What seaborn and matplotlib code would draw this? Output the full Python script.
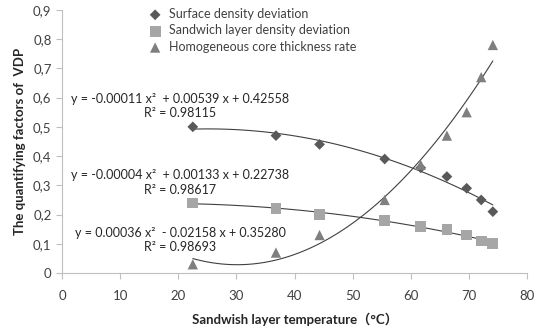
import numpy as np
import pandas as pd
import matplotlib
matplotlib.use("Agg")
import matplotlib.pyplot as plt
import seaborn as sns

# data
temperature = [22.5, 36.8, 44.3, 55.5, 61.7, 66.2, 69.6, 72.1, 74.1]
surface_density = [0.50, 0.47, 0.44, 0.39, 0.36, 0.33, 0.29, 0.25, 0.21]
sandwich_density = [0.24, 0.22, 0.20, 0.18, 0.16, 0.15, 0.13, 0.11, 0.10]
core_thickness = [0.03, 0.07, 0.13, 0.25, 0.37, 0.47, 0.55, 0.67, 0.78]

series_names = ["Surface density deviation", "Sandwich layer density deviation",
                "Homogeneous core thickness rate"]
equations = ["y = -0.00011 x²  + 0.00539 x + 0.42558",
             "y = -0.00004 x²  + 0.00133 x + 0.22738",
             "y = 0.00036 x²  - 0.02158 x + 0.35280"]
r_squared = ["R² = 0.98115", "R² = 0.98617", "R² = 0.98693"]

x_ticks = [0, 10, 20, 30, 40, 50, 60, 70, 80]
y_ticks = [0, 0.1, 0.2, 0.3, 0.4, 0.5, 0.6, 0.7, 0.8, 0.9]
y_tick_labels = ["0", "0,1", "0,2", "0,3", "0,4", "0,5", "0,6", "0,7", "0,8", "0,9"]

df = pd.DataFrame({"T": temperature, "s": surface_density,
                   "w": sandwich_density, "c": core_thickness})

sns.set_style("white")
plt.rcParams["font.family"] = ["Lato", "Noto Sans CJK SC", "DejaVu Sans"]
text_col = "#404040"

fig = plt.figure(figsize=(5.39, 3.29), dpi=100)
ax = fig.add_axes([0.115, 0.170, 0.863, 0.800])

markers = ["D", "s", "^"]
colors = ["#595959", "#a6a6a6", "#7f7f7f"]
sizes = [30, 60, 55]
for col, m, c, sz, name in zip(["s", "w", "c"], markers, colors, sizes, series_names):
    sns.regplot(data=df, x="T", y=col, order=2, ci=None, scatter=False, ax=ax,
                line_kws={"color": "#404040", "lw": 0.8})
    sns.scatterplot(data=df, x="T", y=col, marker=m, color=c, s=sz, ax=ax,
                    edgecolor="none", label=name, zorder=3)

ax.set_xlim(0, 80)
ax.set_ylim(0, 0.9)
ax.set_xticks(x_ticks)
ax.set_yticks(y_ticks)
ax.set_yticklabels(y_tick_labels)
ax.tick_params(axis="both", labelsize=9.5, colors="#bfbfbf", labelcolor=text_col,
               length=4, width=0.8, direction="out", left=True, bottom=True)
ax.tick_params(axis="x", pad=8)
for side in ["top", "right"]:
    ax.spines[side].set_visible(False)
for side in ["left", "bottom"]:
    ax.spines[side].set_color("#bfbfbf")
    ax.spines[side].set_linewidth(0.8)

ax.set_xlabel("Sandwish layer temperature（°C）", fontsize=9.5, fontweight="bold",
              color="#262626", labelpad=8)
ax.set_ylabel("The quantifying factors of  VDP", fontsize=9.5, fontweight="bold",
              color="#262626", labelpad=5)

# equation labels (pixel positions converted to figure fraction)
eq_pos = [(180, 99, 113), (180, 175, 190), (180, 233, 247)]
for (px, py1, py2), eq, r2 in zip(eq_pos, equations, r_squared):
    fig.text(px / 539, 1 - py1 / 329, eq, ha="center", va="center",
             fontsize=9, color="#262626")
    fig.text(px / 539, 1 - py2 / 329, r2, ha="center", va="center",
             fontsize=9, color="#262626")

ax.legend(loc="upper left", bbox_to_anchor=(0.168, 1.04), frameon=False,
          fontsize=9, labelcolor=text_col, handletextpad=0.6, labelspacing=0.35,
          handlelength=1.0, borderpad=0.2)

fig.savefig("out.png", dpi=100)
